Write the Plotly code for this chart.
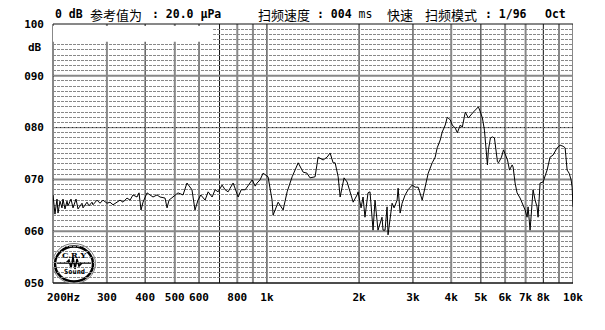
import math
import plotly.graph_objects as go

# ---------------- data ----------------
freq_hz = [
    200, 201.5, 203, 206.1, 207.7, 210.8, 214.0, 215.6, 218.9, 222.2, 223.9, 229.0, 232.5, 237.8,
    241.4, 248.8, 250.7, 258.3, 262.2, 268.2, 270.2, 278.5, 284.9, 291.4, 300.3, 307.1, 314.1,
    323.7, 331.1, 338.7, 349.0, 357.0, 365.1, 376.3, 382.0, 387.8, 393.7, 405.7, 415.0, 424.4,
    437.4, 447.4, 464.6, 471.7, 478.8, 493.4, 512.3,
    532, 548, 569, 582, 595.5, 608, 628, 642.5, 662, 677, 692.6, 713.7, 730, 746.8, 758, 775.6,
    805.4, 824, 849, 868, 894.8, 915.6, 928.4, 949.6, 971.6, 1008.5, 1039.6, 1047.5, 1088,
    1129.6, 1164, 1208.7, 1265, 1313,
    1352, 1383, 1436.6, 1469.5, 1526, 1572.6, 1608.6, 1645.4, 1670.5, 1709, 1734.7, 1761, 1786.4,
    1828, 1870, 1913, 1970, 1985, 2030, 2061, 2091, 2139, 2172, 2205, 2222, 2255, 2289, 2306,
    2377, 2395, 2432, 2469, 2487, 2525, 2564, 2603, 2663, 2683, 2724, 2765, 2828, 2893, 2982,
    3051, 3120, 3216, 3289, 3365, 3468, 3546,
    3600, 3683, 3739, 3825, 3883, 3972, 4032, 4125, 4188, 4284, 4349, 4448, 4550, 4620, 4726,
    4798, 4908, 4983, 5059, 5136, 5253, 5293, 5373, 5455, 5538, 5665, 5708, 5839, 5928, 6110,
    6202, 6325, 6372, 6468, 6566, 6716, 6819, 6973, 7079, 7132, 7240, 7405, 7518, 7631, 7689,
    7806, 7984, 8229, 8417, 8609, 8873, 9076, 9283, 9424, 9567, 9712, 9860, 9934, 10000,
]
level_db = [
    67.0, 64.5, 63.3, 66.2, 63.5, 65.8, 64.5, 66.2, 64.3, 65.8, 64.9, 66.2, 64.5, 66.2,
    64.3, 65.4, 64.5, 65.6, 64.9, 65.6, 65.1, 66.0, 65.4, 66.0, 65.4, 65.6, 65.1,
    65.6, 66.0, 65.6, 66.4, 66.0, 67.0, 66.6, 67.4, 64.1, 65.6, 67.4, 67.0, 66.6,
    67.0, 66.6, 66.4, 64.5, 66.0, 66.6, 67.4,
    67.0, 69.3, 68.0, 64.1, 66.0, 67.0, 66.0, 67.6, 66.6, 68.0, 67.6, 68.9, 68.0, 67.6, 68.3, 69.3,
    66.6, 68.0, 68.0, 68.9, 69.9, 68.7, 69.3, 69.9, 71.2, 70.5, 66.0, 63.1, 65.6,
    64.1, 67.6, 70.5, 73.2, 71.4,
    71.2, 70.3, 70.5, 74.3, 73.75, 74.3, 75.1, 73.2, 73.2, 70.5, 66.6, 68.5, 70.3,
    69.5, 67.6, 65.6, 67.0, 67.6, 64.5, 66.6, 62.7, 67.4, 67.6, 61.8, 60.2, 66.0, 62.7, 60.2,
    62.7, 60.2, 60.2, 64.7, 59.3, 62.2, 65.4, 64.5, 66.0, 68.3, 63.5, 65.4, 67.0, 68.0, 68.9,
    68.5, 68.5, 66.0, 68.5, 71.2, 73.2, 74.3,
    76.1, 77.6, 79.15, 80.5, 82.0, 81.5, 80.5, 79.9, 79.0, 80.5, 80.1, 83.0, 81.85, 82.4, 83.0,
    83.4, 84.0, 83.0, 81.85, 79.5, 72.8, 75.7, 78.0, 78.2, 78.0, 73.4, 73.2, 74.3, 75.7, 73.75,
    71.8, 72.8, 72.4, 69.3, 67.4, 66.4, 65.4, 64.1, 62.7, 64.7, 60.2, 68.0, 66.0, 64.7, 62.7,
    69.3, 69.5, 71.8, 74.3, 74.7, 76.1, 76.6, 76.4, 76.1, 71.8, 71.2, 69.9, 68.5, 64.7,
]

x_tick_vals = [300, 400, 500, 600, 800, 1000, 2000, 3000, 4000, 5000, 6000, 7000, 8000, 10000]
x_tick_text = ["300", "400", "500", "600", "800", "1k", "2k", "3k", "4k", "5k", "6k", "7k", "8k", "10k"]
y_tick_vals = [50, 60, 70, 80, 90, 100]
y_tick_text = ["050", "060", "070", "080", "090", "100"]

grid_freqs = [300, 400, 500, 600, 700, 800, 900, 1000, 2000, 3000, 4000, 5000, 6000, 7000, 8000, 9000, 10000]
grid_dark = [False, True, False, True, True, False, False, True, True, True, False, True, False, False, True, False, False]
major_levels = [60, 70, 80, 90]
major_dark = [False, False, True, False]

title_parts = [
    ("<b>0 dB</b>", 53, "ascii"),
    ("参考值为", 88, "cjk"),
    ("<b>: 20.0 μPa</b>", 150, "ascii"),
    ("扫频速度", 256, "cjk"),
    ("<b>: 004</b> ms", 315, "ascii"),
    ("快速", 385, "cjk"),
    ("扫频模式", 423, "cjk"),
    ("<b>: 1/96</b>", 483, "ascii"),
    ("<b>Oct</b>", 543, "ascii"),
]

# ---------------- layout helpers ----------------
W, H = 605, 330
L, R, T, B = 53, 32, 24, 47
PW, PH = W - L - R, H - T - B


def px(xp):
    return (xp - L) / PW


def py(yp):
    return (H - B - yp) / PH


MONO = "DejaVu Sans Mono, Noto Sans CJK SC, monospace"
CJK = "Noto Sans CJK SC, DejaVu Sans, sans-serif"
GRAY = "#888888"
DARK = "#111111"

fig = go.Figure()
fig.add_trace(go.Scatter(
    x=freq_hz, y=level_db, mode="lines",
    line=dict(color="#000000", width=1),
    hoverinfo="skip", showlegend=False,
))

shapes = []
# vertical grid lines
for f, dark in zip(grid_freqs, grid_dark):
    shapes.append(dict(type="line", xref="x", yref="paper", x0=f, x1=f, y0=0, y1=1,
                       line=dict(color=DARK if dark else GRAY, width=1 if dark else 2),
                       layer="between"))
# major horizontal lines
for lv, dark in zip(major_levels, major_dark):
    shapes.append(dict(type="line", xref="paper", yref="y", x0=0, x1=1, y0=lv, y1=lv,
                       line=dict(color=DARK if dark else GRAY, width=1 if dark else 2),
                       layer="between"))
# blank box under the header text
shapes.append(dict(type="rect", xref="x", yref="y", x0=200, x1=667, y0=96.55, y1=99.6,
                   fillcolor="white", line=dict(width=0), layer="between"))
# frame
shapes.append(dict(type="line", xref="paper", yref="paper", x0=0, x1=1, y0=1, y1=1,
                   line=dict(color=DARK, width=1), layer="between"))
shapes.append(dict(type="line", xref="paper", yref="paper", x0=0, x1=1, y0=0, y1=0,
                   line=dict(color=DARK, width=1.5), layer="between"))
shapes.append(dict(type="line", xref="paper", yref="paper", x0=0, x1=0, y0=0, y1=1,
                   line=dict(color=DARK, width=1), layer="between"))
# logo
shapes.append(dict(type="circle", xref="paper", yref="paper",
                   x0=px(52.5), x1=px(95.5), y0=py(283.5), y1=py(243.5),
                   fillcolor="white", line=dict(color="#777777", width=1), layer="between"))
shapes.append(dict(type="circle", xref="paper", yref="paper",
                   x0=px(55), x1=px(93), y0=py(281.5), y1=py(246.5),
                   fillcolor="white", line=dict(color="#000000", width=2.5), layer="between"))
shapes.append(dict(type="line", xref="paper", yref="paper", x0=px(57), x1=px(91), y0=py(263), y1=py(263),
                   line=dict(color="#000000", width=1.5), layer="between"))
wave = [(66, 263), (69, 260), (71, 268), (73, 257), (75, 269), (77, 259), (79, 266), (82, 263)]
path = "M " + " L ".join(f"{px(a):.4f},{py(b):.4f}" for a, b in wave)
shapes.append(dict(type="path", xref="paper", yref="paper", path=path,
                   line=dict(color="#000000", width=1.5), layer="between"))

annotations = []
for txt, xpos, kind in title_parts:
    annotations.append(dict(
        text=txt, xref="paper", yref="paper", x=px(xpos), y=py(14.5),
        xanchor="left", yanchor="middle", showarrow=False,
        font=dict(family=MONO if kind == "ascii" else CJK,
                  size=11.5 if kind == "ascii" else 13, color="#000000"),
    ))
annotations.append(dict(text="<b>dB</b>", xref="paper", yref="paper", x=px(26), y=py(47),
                        xanchor="left", yanchor="middle", showarrow=False,
                        font=dict(family=MONO, size=11, color="#000000")))
annotations.append(dict(text="<b>200Hz</b>", xref="paper", yref="paper", x=px(63), y=py(297),
                        xanchor="center", yanchor="middle", showarrow=False,
                        font=dict(family=MONO, size=11, color="#000000")))
annotations.append(dict(text="<b>C.R.Y</b>", xref="paper", yref="paper", x=px(74), y=py(255),
                        xanchor="center", yanchor="middle", showarrow=False,
                        font=dict(family="DejaVu Serif, serif", size=8, color="#000000")))
annotations.append(dict(text="<b>Sound</b>", xref="paper", yref="paper", x=px(74), y=py(272),
                        xanchor="center", yanchor="middle", showarrow=False,
                        font=dict(family="DejaVu Sans Mono, monospace", size=7, color="#000000")))

fig.update_layout(
    width=W, height=H,
    margin=dict(l=L, r=R, t=T, b=B, pad=0),
    paper_bgcolor="white", plot_bgcolor="white",
    showlegend=False,
    shapes=shapes, annotations=annotations,
    xaxis=dict(
        type="log", range=[math.log10(200), math.log10(10000)],
        tickvals=x_tick_vals, ticktext=x_tick_text,
        tickfont=dict(family=MONO, size=11, color="#000000", weight="bold"),
        ticks="", ticklabelstandoff=6,
        showgrid=False, zeroline=False, showline=False, fixedrange=True,
    ),
    yaxis=dict(
        range=[50, 100],
        tickvals=y_tick_vals, ticktext=y_tick_text,
        tickfont=dict(family=MONO, size=11, color="#000000", weight="bold"),
        ticks="", ticklabelstandoff=8,
        showgrid=False, zeroline=False, showline=False, fixedrange=True,
        minor=dict(dtick=1, showgrid=True, gridcolor=GRAY, griddash="3px,1px", gridwidth=1),
    ),
)

fig.write_html("out.html", config={"displayModeBar": False})
